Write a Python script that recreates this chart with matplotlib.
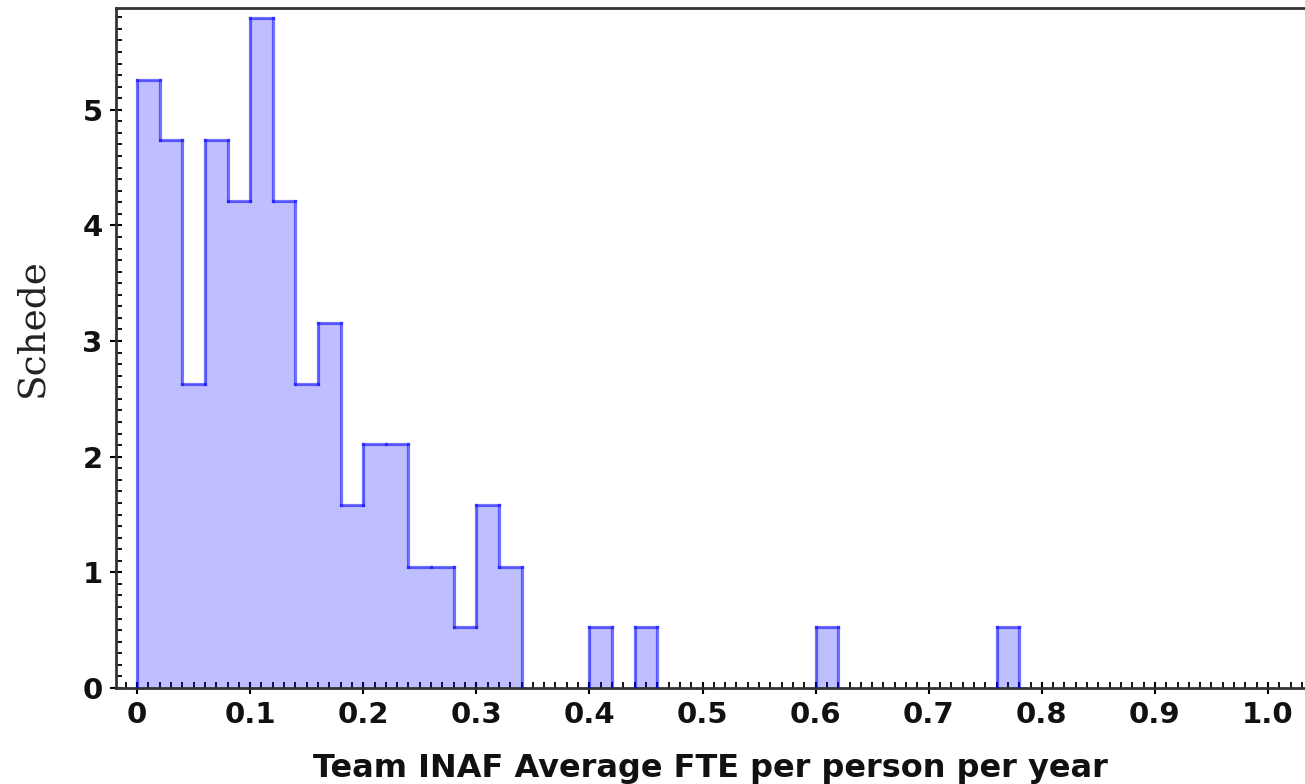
import matplotlib
matplotlib.use("Agg")
import matplotlib.pyplot as plt
from matplotlib.collections import LineCollection
from matplotlib.ticker import MultipleLocator, FixedLocator, FuncFormatter

# Histogram bins (left edge) and normalised heights
bin_left = [0.00, 0.02, 0.04, 0.06, 0.08, 0.10, 0.12, 0.14, 0.16, 0.18,
            0.20, 0.22, 0.24, 0.26, 0.28, 0.30, 0.32, 0.40, 0.44, 0.60, 0.76]
heights = [5.26, 4.74, 2.63, 4.74, 4.21, 5.79, 4.21, 2.63, 3.16, 1.58,
           2.11, 2.11, 1.05, 1.05, 0.53, 1.58, 1.05, 0.53, 0.53, 0.53, 0.53]
bin_width = 0.02

x_ticks = [0, 0.1, 0.2, 0.3, 0.4, 0.5, 0.6, 0.7, 0.8, 0.9, 1.0]
y_ticks = [0, 1, 2, 3, 4, 5]
x_label = "Team INAF Average FTE per person per year"
y_label = "Schede"

W, H = 1305, 784
fig = plt.figure(figsize=(W / 100, H / 100), dpi=100)
ax = fig.add_axes([116 / W, 1 - 688 / H, 1 - 116 / W, (688 - 8) / H])

# filled bins
ax.bar(bin_left, heights, width=bin_width, align="edge",
       facecolor=(0, 0, 1, 0.25), edgecolor="none", linewidth=0, zorder=2)

# step outline, drawn bin by bin so the joints overlap
segments = []
prev_right, prev_h = None, 0.0
for l, h in zip(bin_left, heights):
    r = l + bin_width
    adjacent = prev_right is not None and abs(prev_right - l) < 1e-9
    start = prev_h if adjacent else 0.0
    if not adjacent and prev_right is not None:
        segments.append([(prev_right, prev_h), (prev_right, 0.0)])
    segments.append([(l, start), (l, h)])
    segments.append([(l, h), (r, h)])
    prev_right, prev_h = r, h
segments.append([(prev_right, prev_h), (prev_right, 0.0)])

lc = LineCollection(segments, colors=[(0, 0, 1, 0.55)], linewidths=2.3,
                    capstyle="projecting", zorder=3)
ax.add_collection(lc)

ax.set_xlim(-0.0186, 1.0327)
ax.set_ylim(0, 5.88)

ax.xaxis.set_major_locator(FixedLocator(x_ticks))
ax.yaxis.set_major_locator(FixedLocator(y_ticks))
ax.xaxis.set_minor_locator(MultipleLocator(0.01))
ax.yaxis.set_minor_locator(MultipleLocator(0.1))
ax.xaxis.set_major_formatter(FuncFormatter(lambda v, _: "0" if abs(v) < 1e-9 else "%.1f" % v))
ax.yaxis.set_major_formatter(FuncFormatter(lambda v, _: "%d" % round(v)))

ax.tick_params(axis="both", which="major", direction="inout", length=9,
               width=1.5, labelsize=21, color="black", pad=5)
ax.tick_params(axis="both", which="minor", direction="in", length=4,
               width=1.3, color="black")
for lab in ax.get_xticklabels() + ax.get_yticklabels():
    lab.set_fontweight("bold")
    lab.set_color("#111111")

for side in ("left", "bottom", "top"):
    ax.spines[side].set_linewidth(2)
    ax.spines[side].set_color("#333333")
ax.spines["right"].set_visible(False)

ax.set_xlabel(x_label, fontsize=23, family="DejaVu Sans", fontweight="bold",
              color="#111111", labelpad=17)
ax.set_ylabel(y_label, fontsize=27, family="DejaVu Serif", color="#222222")
ax.yaxis.set_label_coords(-0.055, 0.53)

fig.savefig("out.png", dpi=100)
